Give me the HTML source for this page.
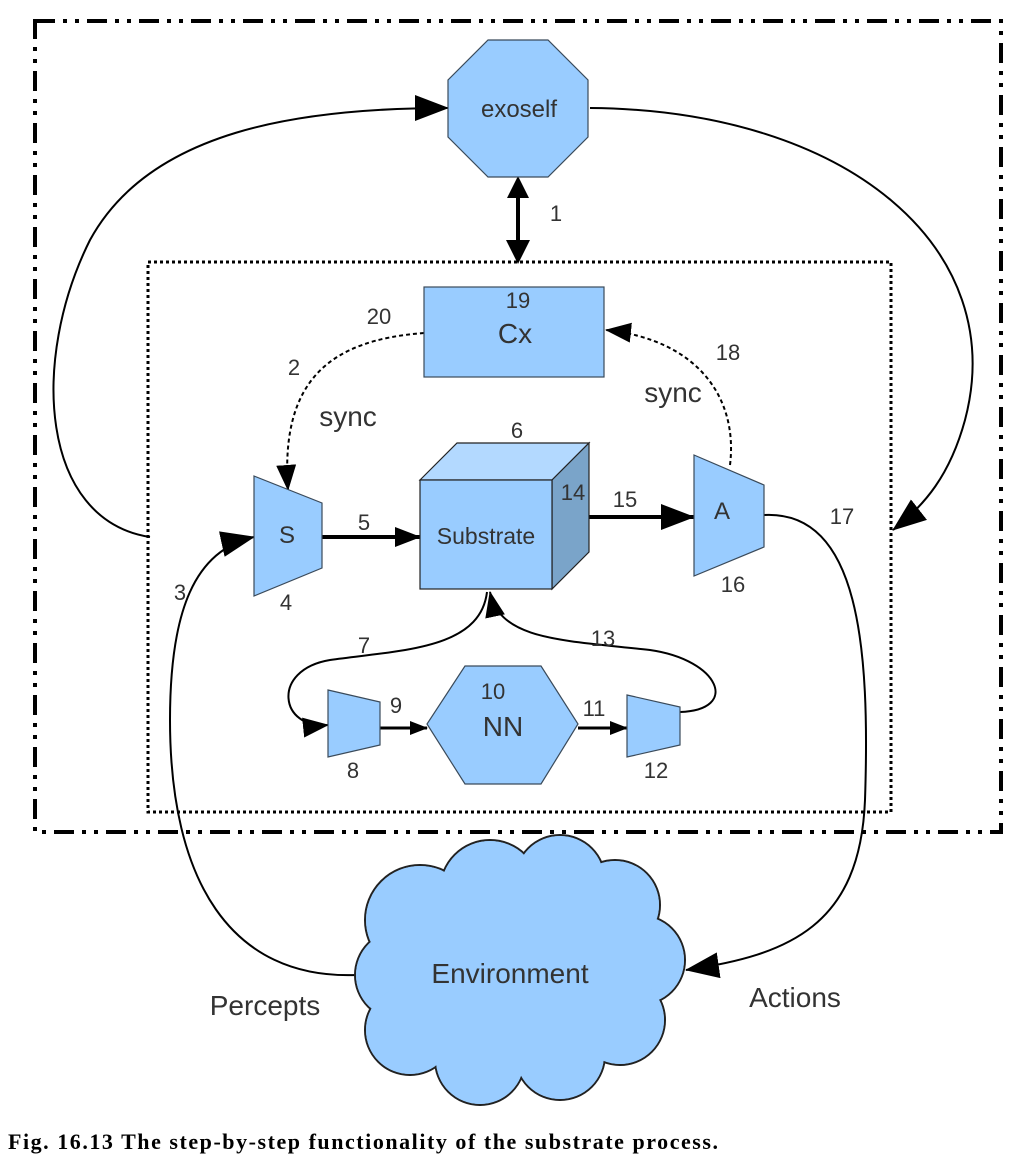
<!DOCTYPE html>
<html><head><meta charset="utf-8"><style>
html,body{margin:0;padding:0;background:#fff;}
svg{display:block;}
text{font-family:"Liberation Sans",sans-serif;fill:#333;}
</style></head><body>
<svg width="1034" height="1166" viewBox="0 0 1034 1166" xmlns="http://www.w3.org/2000/svg">
<defs>
<marker id="big" markerWidth="34" markerHeight="26" refX="33" refY="13" orient="auto" markerUnits="userSpaceOnUse" viewBox="0 0 34 26"><path d="M0,0 L34,13 L0,26 z" fill="#000"/></marker>
<marker id="mid" markerWidth="26" markerHeight="20" refX="25" refY="10" orient="auto" markerUnits="userSpaceOnUse" viewBox="0 0 26 20"><path d="M0,0 L26,10 L0,20 z" fill="#000"/></marker>
<marker id="sm" markerWidth="18" markerHeight="14" refX="17" refY="7" orient="auto" markerUnits="userSpaceOnUse" viewBox="0 0 18 14"><path d="M0,0 L18,7 L0,14 z" fill="#000"/></marker>
</defs>
<rect x="35" y="21" width="966" height="811" fill="none" stroke="#000" stroke-width="4" stroke-dasharray="20,8,4,8,4,8"/>
<rect x="148" y="262" width="743" height="550" fill="none" stroke="#000" stroke-width="3" stroke-dasharray="3,3"/>

<path d="M150,537 C40,520 30,360 90,240 C150,130 300,108 448,108" fill="none" stroke="#000" stroke-width="2" marker-end="url(#big)"/>
<path d="M590,108 C850,110 1010,250 965,420 C950,475 925,505 893,530" fill="none" stroke="#000" stroke-width="2" marker-end="url(#big)"/>
<path d="M357,975 C230,980 170,880 170,720 C170,610 195,550 254,537" fill="none" stroke="#000" stroke-width="2" marker-end="url(#big)"/>
<path d="M764,515 C860,510 870,650 865,800 C860,925 790,955 686,970" fill="none" stroke="#000" stroke-width="2" marker-end="url(#big)"/>
<path d="M424,333 C330,340 280,380 288,490" fill="none" stroke="#000" stroke-width="2" stroke-dasharray="4,3" marker-end="url(#mid)"/>
<path d="M730,465 C738,400 700,340 606,330" fill="none" stroke="#000" stroke-width="2" stroke-dasharray="4,3" marker-end="url(#mid)"/>
<line x1="518" y1="180" x2="518" y2="260" stroke="#000" stroke-width="4"/>
<path d="M518,176 L507,198 L529,198 z" fill="#000"/>
<path d="M518,264 L506,240 L530,240 z" fill="#000"/>
<line x1="322" y1="537" x2="420" y2="537" stroke="#000" stroke-width="4" marker-end="url(#mid)"/>
<line x1="572" y1="517" x2="694" y2="517" stroke="#000" stroke-width="4" marker-end="url(#big)"/>
<path d="M487,592 C480,650 400,650 330,660 C270,670 280,730 328,725" fill="none" stroke="#000" stroke-width="2" marker-end="url(#mid)"/>
<path d="M680,712 C740,710 720,660 650,650 C560,640 500,640 490,592" fill="none" stroke="#000" stroke-width="2" marker-end="url(#mid)"/>
<line x1="380" y1="728" x2="427" y2="728" stroke="#000" stroke-width="3" marker-end="url(#sm)"/>
<line x1="578" y1="728" x2="627" y2="728" stroke="#000" stroke-width="3" marker-end="url(#sm)"/>

<polygon points="488,40 548,40 588,80 588,137 548,177 488,177 448,137 448,80" fill="#99ccff" stroke="#3a4a5a" stroke-width="1.2"/>
<text x="519" y="117" font-size="24" text-anchor="middle">exoself</text>
<rect x="424" y="287" width="180" height="90" fill="#99ccff" stroke="#3a4a5a" stroke-width="1.2"/>
<text x="518" y="308" font-size="22" text-anchor="middle">19</text>
<text x="515" y="343" font-size="28" text-anchor="middle">Cx</text>
<polygon points="254,476 322,503 322,568 254,596" fill="#99ccff" stroke="#3a4a5a" stroke-width="1.2"/>
<text x="287" y="543" font-size="24" text-anchor="middle">S</text>
<polygon points="420,480 457,443 589,443 552,480" fill="#b3d9ff" stroke="#222" stroke-width="1.2"/>
<polygon points="552,480 589,443 589,552 552,589" fill="#7aa4c9" stroke="#222" stroke-width="1.2"/>
<rect x="420" y="480" width="132" height="109" fill="#99ccff" stroke="#222" stroke-width="1.2"/>
<text x="486" y="544" font-size="23" text-anchor="middle">Substrate</text>
<polygon points="694,455 764,485 764,547 694,576" fill="#99ccff" stroke="#3a4a5a" stroke-width="1.2"/>
<text x="722" y="519" font-size="24" text-anchor="middle">A</text>
<polygon points="465,666 541,666 578,724 541,784 465,784 427,724" fill="#99ccff" stroke="#3a4a5a" stroke-width="1.2"/>
<text x="493" y="699" font-size="22" text-anchor="middle">10</text>
<text x="503" y="736" font-size="28" text-anchor="middle">NN</text>
<polygon points="328,690 380,702 380,745 328,757" fill="#99ccff" stroke="#3a4a5a" stroke-width="1.2"/>
<polygon points="627,695 680,707 680,745 627,757" fill="#99ccff" stroke="#3a4a5a" stroke-width="1.2"/>

<g stroke="#222" stroke-width="2" fill="#99ccff">
<circle cx="420" cy="920" r="55"/><circle cx="490" cy="890" r="50"/><circle cx="560" cy="880" r="45"/><circle cx="615" cy="905" r="45"/><circle cx="640" cy="960" r="45"/><circle cx="400" cy="975" r="45"/><circle cx="410" cy="1030" r="45"/><circle cx="480" cy="1060" r="45"/><circle cx="560" cy="1055" r="45"/><circle cx="620" cy="1020" r="45"/>
</g>
<g fill="#99ccff">
<circle cx="420" cy="920" r="54"/><circle cx="490" cy="890" r="49"/><circle cx="560" cy="880" r="44"/><circle cx="615" cy="905" r="44"/><circle cx="640" cy="960" r="44"/><circle cx="400" cy="975" r="44"/><circle cx="410" cy="1030" r="44"/><circle cx="480" cy="1060" r="44"/><circle cx="560" cy="1055" r="44"/><circle cx="620" cy="1020" r="44"/>
<rect x="420" y="900" width="200" height="150"/>
</g>
<text x="510" y="983" font-size="28" text-anchor="middle">Environment</text>

<g font-size="22" text-anchor="middle">
<text x="556" y="221">1</text>
<text x="379" y="324">20</text>
<text x="294" y="375">2</text>
<text x="728" y="360">18</text>
<text x="517" y="438">6</text>
<text x="573" y="500">14</text>
<text x="625" y="507">15</text>
<text x="733" y="592">16</text>
<text x="842" y="524">17</text>
<text x="364" y="530">5</text>
<text x="180" y="600">3</text>
<text x="286" y="610">4</text>
<text x="364" y="653">7</text>
<text x="603" y="646">13</text>
<text x="396" y="713">9</text>
<text x="594" y="716">11</text>
<text x="353" y="778">8</text>
<text x="656" y="778">12</text>
</g>
<text x="348" y="426" font-size="28" text-anchor="middle">sync</text>
<text x="673" y="402" font-size="28" text-anchor="middle">sync</text>
<text x="265" y="1015" font-size="28" text-anchor="middle">Percepts</text>
<text x="795" y="1007" font-size="28" text-anchor="middle">Actions</text>
<text x="8" y="1149" font-size="22" font-weight="bold" textLength="710" style="font-family:'Liberation Serif',serif;fill:#000">Fig. 16.13 The step-by-step functionality of the substrate process.</text>
</svg>
</body></html>
